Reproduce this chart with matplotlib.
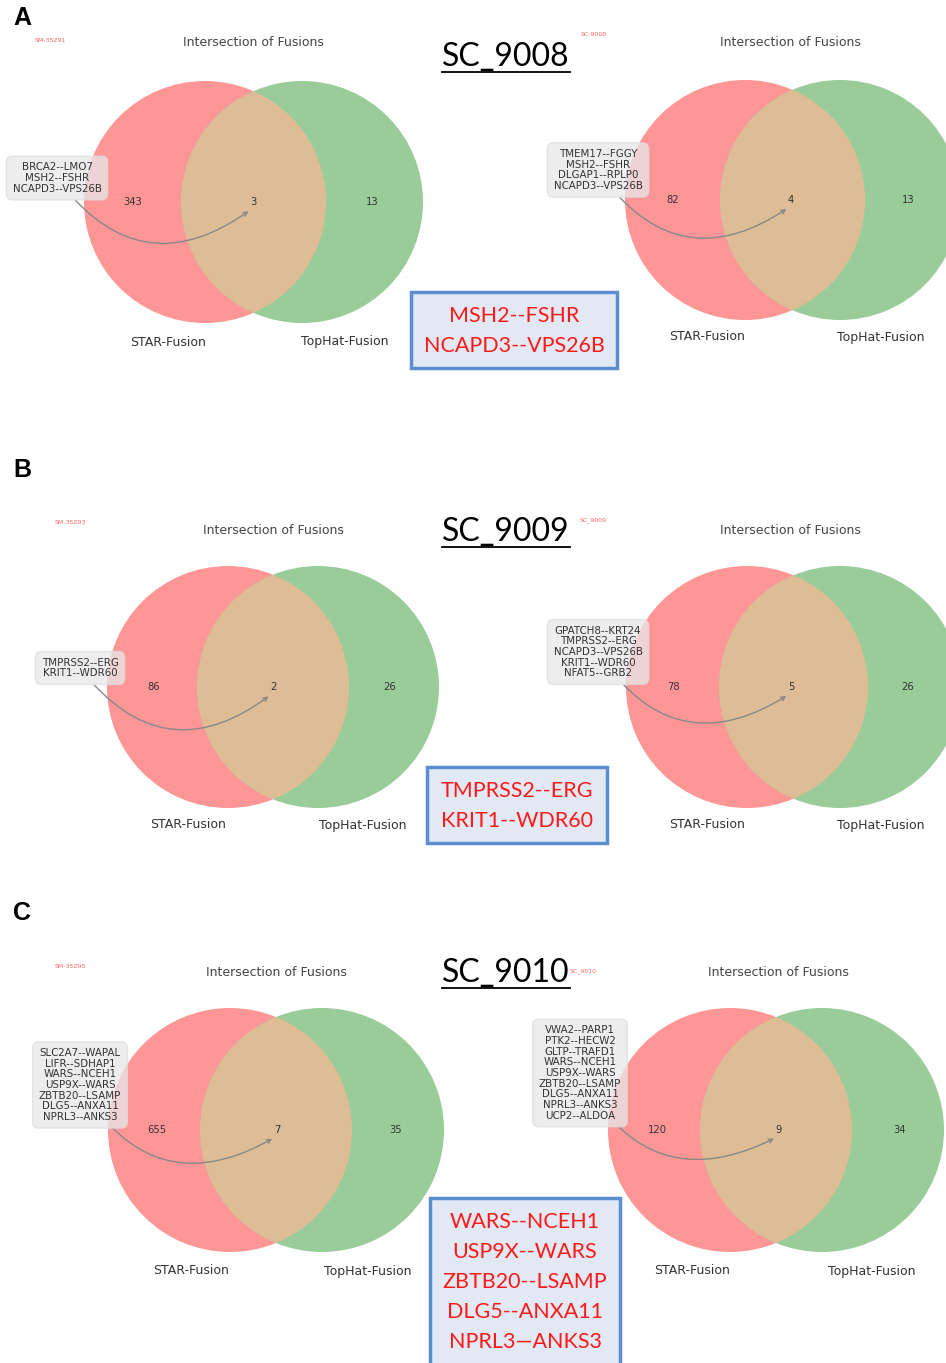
import matplotlib
matplotlib.use("Agg")
import matplotlib.pyplot as plt
from matplotlib.patches import Circle, FancyBboxPatch

# ---------------- data ----------------
samples = ["SC_9008", "SC_9009", "SC_9010"]
panel_letters = ["A", "B", "C"]
left_ids = ["SM-35Z91", "SM-35Z93", "SM-35Z95"]
right_ids = ["SC-9008", "SC_9009", "SC_9010"]
set_labels = ["STAR-Fusion", "TopHat-Fusion"]
title_text = "Intersection of Fusions"

# counts: (STAR only, both, TopHat only)
left_counts = [(343, 3, 13), (86, 2, 26), (655, 7, 35)]
right_counts = [(82, 4, 13), (78, 5, 26), (120, 9, 34)]

left_fusions = [
    ["BRCA2--LMO7", "MSH2--FSHR", "NCAPD3--VPS26B"],
    ["TMPRSS2--ERG", "KRIT1--WDR60"],
    ["SLC2A7--WAPAL", "LIFR--SDHAP1", "WARS--NCEH1", "USP9X--WARS",
     "ZBTB20--LSAMP", "DLG5--ANXA11", "NPRL3--ANKS3"],
]
right_fusions = [
    ["TMEM17--FGGY", "MSH2--FSHR", "DLGAP1--RPLP0", "NCAPD3--VPS26B"],
    ["GPATCH8--KRT24", "TMPRSS2--ERG", "NCAPD3--VPS26B", "KRIT1--WDR60", "NFAT5--GRB2"],
    ["VWA2--PARP1", "PTK2--HECW2", "GLTP--TRAFD1", "WARS--NCEH1", "USP9X--WARS",
     "ZBTB20--LSAMP", "DLG5--ANXA11", "NPRL3--ANKS3", "UCP2--ALDOA"],
]
common_fusions = [
    ["MSH2--FSHR", "NCAPD3--VPS26B"],
    ["TMPRSS2--ERG", "KRIT1--WDR60"],
    ["WARS--NCEH1", "USP9X--WARS", "ZBTB20--LSAMP", "DLG5--ANXA11", "NPRL3\u2014ANKS3"],
]

# ---------------- layout (pixel coordinates) ----------------
W, H = 946, 1363
fig = plt.figure(figsize=(W / 100, H / 100), dpi=100)
ax = fig.add_axes([0, 0, 1, 1])
ax.set_xlim(0, W)
ax.set_ylim(H, 0)
ax.axis("off")

RED = "#ff9696"
GREEN = "#99cc99"
MIX = "#debd96"

# per-venn geometry: red center x, green center x, center y, radius
left_geo = [(205, 302, 202, 121), (228, 318, 687, 121), (230, 322, 1130, 122)]
right_geo = [(745, 840, 200, 120), (747, 840, 687, 121), (730, 822, 1130, 122)]
left_title = [(253, 43), (273, 530), (276, 972)]
right_title = [(790, 43), (790, 530), (778, 972)]
left_id_pos = [(50, 41), (70, 523), (70, 966)]
right_id_pos = [(594, 35), (593, 520), (583, 971)]
left_box = [(57, 178), (80, 668), (80, 1085)]
right_box = [(598, 170), (598, 652), (580, 1073)]
left_lab_y = [342, 825, 1271]
right_lab_y = [337, 825, 1271]
left_lab_x = [(168, 345), (188, 363), (191, 368)]
right_lab_x = [(707, 881), (707, 881), (692, 872)]
left_num_x = [(133, 253, 372), (154, 273, 390), (157, 277, 396)]
right_num_x = [(673, 791, 908), (673, 791, 908), (657, 779, 900)]
letter_y = [18, 470, 913]
sample_y = [57, 532, 973]
common_box = [(411, 617, 292, 368), (427, 607, 767, 843), (430, 620, 1198, 1366)]


def venn(geo, counts, tpos, idtext, idpos, fusions, bpos, lab_y, lab_x, num_x):
    rx, gx, cy, r = geo
    red = Circle((rx, cy), r, facecolor=RED, edgecolor="none", zorder=1)
    green = Circle((gx, cy), r, facecolor=GREEN, edgecolor="none", zorder=1)
    ax.add_patch(red)
    ax.add_patch(green)
    mix = Circle((gx, cy), r, facecolor=MIX, edgecolor="none", zorder=2)
    ax.add_patch(mix)
    mix.set_clip_path(red)
    for x, c in zip(num_x, counts):
        ax.text(x, cy, str(c), ha="center", va="center", fontsize=7.2,
                color="#333333", zorder=5)
    ax.text(lab_x[0], lab_y, set_labels[0], ha="center", va="center",
            fontsize=9, color="#333333")
    ax.text(lab_x[1], lab_y, set_labels[1], ha="center", va="center",
            fontsize=9, color="#333333")
    ax.text(tpos[0], tpos[1], title_text, ha="center", va="center",
            fontsize=9, color="#444444")
    ax.text(idpos[0], idpos[1], idtext, ha="center", va="center",
            fontsize=4.5, color="#ff6666")
    ax.annotate("\n".join(fusions), xy=(num_x[1], cy + 6), xytext=bpos,
                ha="center", va="center", fontsize=7.4, color="#333333",
                linespacing=1.08, zorder=6,
                bbox=dict(boxstyle="round,pad=0.6", fc="#e8e8e8", ec="#dddddd",
                          alpha=0.75),
                arrowprops=dict(arrowstyle="->", color="#888888", lw=1.0,
                                connectionstyle="arc3,rad=0.5", shrinkA=0,
                                shrinkB=4),
                )


for i in range(3):
    venn(left_geo[i], left_counts[i], left_title[i], left_ids[i], left_id_pos[i],
         left_fusions[i], left_box[i], left_lab_y[i], left_lab_x[i], left_num_x[i])
    venn(right_geo[i], right_counts[i], right_title[i], right_ids[i], right_id_pos[i],
         right_fusions[i], right_box[i], right_lab_y[i], right_lab_x[i], right_num_x[i])

    ax.text(22, letter_y[i], panel_letters[i], ha="center", va="center",
            fontsize=18, fontweight="bold", family="Liberation Sans")

    ax.text(506, sample_y[i], samples[i], ha="center", va="center",
            fontsize=23, family="Lato", color="black", zorder=7)
    ax.plot([442, 570], [sample_y[i] + 15, sample_y[i] + 15], color="black",
            lw=1.3, zorder=7)

    x0, x1, y0, y1 = common_box[i]
    ax.add_patch(FancyBboxPatch((x0, y0), x1 - x0, y1 - y0,
                                boxstyle="square,pad=0", fc="#e2e9f4",
                                ec="#5b8fd0", lw=2.5, zorder=8))
    lines = common_fusions[i]
    n = len(lines)
    step = 30
    start = (y0 + y1) / 2 - (n - 1) * step / 2 + 1 if i < 2 else y0 + 24
    for k, ln in enumerate(lines):
        ax.text((x0 + x1) / 2, start + k * step, ln, ha="center", va="center",
                fontsize=15.5, family="Lato", color="#ff1a1a", zorder=9)

fig.savefig("out.png", dpi=100)
